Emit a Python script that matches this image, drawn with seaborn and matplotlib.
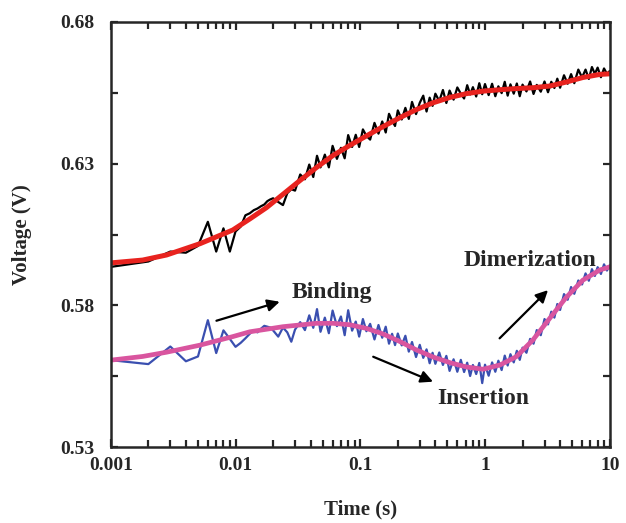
import matplotlib
matplotlib.use('Agg')
import matplotlib.pyplot as plt
from matplotlib.ticker import FixedLocator, LogLocator, NullFormatter, FuncFormatter
import seaborn as sns
import pandas as pd

# ---- data ----
# sample times (s) for the two measured traces
time_s = [0.001, 0.002, 0.003, 0.004, 0.005, 0.006, 0.007, 0.008, 0.009, 0.010,
          0.011, 0.012, 0.013, 0.014, 0.015, 0.016, 0.017, 0.018, 0.019, 0.020,
          0.022, 0.024, 0.026, 0.028, 0.030, 0.033, 0.036, 0.039, 0.042, 0.045, 0.048,
          0.052, 0.056, 0.060, 0.065, 0.070, 0.075, 0.080, 0.086, 0.092, 0.098,
          0.105, 0.112, 0.12, 0.13, 0.14, 0.15, 0.16, 0.17, 0.18, 0.19, 0.20,
          0.215, 0.23, 0.245, 0.26, 0.28, 0.30, 0.32, 0.34, 0.36, 0.38, 0.40,
          0.43, 0.46, 0.49, 0.52, 0.56, 0.60, 0.64, 0.68, 0.72, 0.76, 0.80,
          0.85, 0.90, 0.95, 1.0, 1.07, 1.14, 1.21, 1.28, 1.36, 1.44, 1.52, 1.6,
          1.7, 1.8, 1.9, 2.0, 2.15, 2.3, 2.45, 2.6, 2.8, 3.0, 3.2, 3.4,
          3.6, 3.8, 4.0, 4.3, 4.6, 4.9, 5.2, 5.6, 6.0, 6.4, 6.8, 7.2,
          7.6, 8.0, 8.5, 9.0, 9.5, 10.0]

# upper trace (black, measured)
upper_raw = [0.5936, 0.5955, 0.5990, 0.5986, 0.6010, 0.6095, 0.5990, 0.6072, 0.5990, 0.6061,
             0.6078, 0.6118, 0.6125, 0.6136, 0.6142, 0.6150, 0.6156, 0.6168, 0.6174, 0.6178,
             0.6165, 0.6154, 0.6196, 0.6210, 0.6205, 0.6262, 0.6245, 0.6297, 0.6253, 0.6328, 0.6287,
             0.6332, 0.6287, 0.6363, 0.6317, 0.6356, 0.6319, 0.6401, 0.6359, 0.6402, 0.6359,
             0.6421, 0.6398, 0.6385, 0.6444, 0.6406, 0.6449, 0.6410, 0.6476, 0.6452, 0.6433, 0.6488,
             0.6456, 0.6497, 0.6458, 0.6518, 0.6475, 0.6515, 0.6540, 0.6484, 0.6533, 0.6504, 0.6547,
             0.6521, 0.6560, 0.6514, 0.6558, 0.6526, 0.6569, 0.6547, 0.6530, 0.6577, 0.6544, 0.6570,
             0.6537, 0.6584, 0.6545, 0.6581, 0.6542, 0.6582, 0.6538, 0.6573, 0.6549, 0.6589, 0.6540, 0.6580,
             0.6547, 0.6583, 0.6538, 0.6579, 0.6555, 0.6590, 0.6546, 0.6578, 0.6554, 0.6590, 0.6552, 0.6589,
             0.6567, 0.6600, 0.6568, 0.6612, 0.6582, 0.6616, 0.6584, 0.6632, 0.6604, 0.6632, 0.6599, 0.6641,
             0.6617, 0.6639, 0.6605, 0.6636, 0.6617, 0.6627]

# lower trace (blue, measured)
lower_raw = [0.5607, 0.5593, 0.5655, 0.5603, 0.5620, 0.5748, 0.5632, 0.5712, 0.5682, 0.5654,
             0.5668, 0.5684, 0.5700, 0.5712, 0.5705, 0.5718, 0.5728, 0.5725, 0.5722, 0.5712,
             0.5690, 0.5722, 0.5705, 0.5672, 0.5715, 0.5741, 0.5713, 0.5765, 0.5721, 0.5787, 0.5707,
             0.5757, 0.5702, 0.5782, 0.5727, 0.5761, 0.5695, 0.5783, 0.5711, 0.5743, 0.5690,
             0.5752, 0.5709, 0.5735, 0.5680, 0.5731, 0.5686, 0.5725, 0.5665, 0.5700, 0.5660, 0.5701,
             0.5659, 0.5693, 0.5637, 0.5671, 0.5618, 0.5661, 0.5615, 0.5645, 0.5596, 0.5633, 0.5594,
             0.5634, 0.5590, 0.5622, 0.5569, 0.5610, 0.5566, 0.5608, 0.5565, 0.5598, 0.5551, 0.5590,
             0.5558, 0.5597, 0.5526, 0.5591, 0.5552, 0.5599, 0.5566, 0.5605, 0.5572, 0.5623, 0.5588, 0.5628,
             0.5599, 0.5640, 0.5608, 0.5651, 0.5633, 0.5682, 0.5665, 0.5713, 0.5695, 0.5752, 0.5733, 0.5778,
             0.5757, 0.5805, 0.5784, 0.5840, 0.5820, 0.5865, 0.5841, 0.5888, 0.5874, 0.5913, 0.5887, 0.5928,
             0.5904, 0.5935, 0.5911, 0.5945, 0.5923, 0.5941]

# fitted curves
fit_time = [0.001, 0.0018, 0.0028, 0.0052, 0.0095, 0.013, 0.0177, 0.024, 0.0327, 0.0447,
            0.06, 0.082, 0.112, 0.151, 0.207, 0.282, 0.384, 0.525, 0.708, 0.966,
            1.32, 1.78, 2.42, 3.31, 4.47, 6.08, 8.32, 10.0]
upper_fit = [0.5950, 0.5960, 0.5978, 0.6018, 0.6066, 0.6105, 0.6145, 0.6192, 0.6240, 0.6287,
             0.6328, 0.6364, 0.6398, 0.6430, 0.6462, 0.6491, 0.6515, 0.6534, 0.6547, 0.6556,
             0.6561, 0.6565, 0.6568, 0.6574, 0.6588, 0.6604, 0.6615, 0.6617]
lower_fit = [0.5607, 0.5620, 0.5635, 0.5660, 0.5690, 0.5707, 0.5716, 0.5725, 0.5731, 0.5737,
             0.5737, 0.5732, 0.5719, 0.5700, 0.5673, 0.5643, 0.5618, 0.5598, 0.5583, 0.5575,
             0.5590, 0.5619, 0.5678, 0.5755, 0.5828, 0.5889, 0.5925, 0.5936]

y_major = [0.53, 0.58, 0.63, 0.68]
y_minor = [0.555, 0.605, 0.655]
x_ticks = [0.001, 0.01, 0.1, 1, 10]
x_ticklabels = ['0.001', '0.01', '0.1', '1', '10']

raw = pd.DataFrame({'t': time_s, 'upper': upper_raw, 'lower': lower_raw})
fit = pd.DataFrame({'t': fit_time, 'upper': upper_fit, 'lower': lower_fit})

sns.set_style('ticks')
plt.rcParams['font.family'] = ['Liberation Serif', 'DejaVu Serif']
plt.rcParams['font.weight'] = 'bold'

fig, ax = plt.subplots(figsize=(6.26, 5.23), dpi=100)
fig.subplots_adjust(left=0.177, right=0.974, top=0.958, bottom=0.145)

sns.lineplot(data=raw, x='t', y='upper', ax=ax, color='black', lw=1.6, estimator=None, sort=False)
sns.lineplot(data=fit, x='t', y='upper', ax=ax, color='#e8231f', lw=3.6, estimator=None, sort=False)
sns.lineplot(data=raw, x='t', y='lower', ax=ax, color='#3a4fb0', lw=1.6, estimator=None, sort=False)
sns.lineplot(data=fit, x='t', y='lower', ax=ax, color='#d9559f', lw=3.4, estimator=None, sort=False)

ax.set_xscale('log')
ax.set_xlim(0.001, 10)
ax.set_ylim(0.53, 0.68)

ax.xaxis.set_major_locator(FixedLocator(x_ticks))
ax.xaxis.set_major_formatter(FuncFormatter(lambda v, p: x_ticklabels[x_ticks.index(v)] if v in x_ticks else ''))
ax.xaxis.set_minor_locator(LogLocator(base=10, subs=range(2, 10), numticks=20))
ax.xaxis.set_minor_formatter(NullFormatter())
ax.yaxis.set_major_locator(FixedLocator(y_major))
ax.yaxis.set_minor_locator(FixedLocator(y_minor))
ax.set_yticklabels(['%.2f' % v for v in y_major])

ax.tick_params(axis='both', which='both', direction='in', top=True, right=True,
               width=1.6, labelsize=14)
ax.tick_params(axis='x', which='major', length=6, pad=7)
ax.tick_params(axis='x', which='minor', length=5)
ax.tick_params(axis='y', which='both', length=5, pad=12)
for s in ax.spines.values():
    s.set_linewidth(1.8)

ax.set_xlabel('Time (s)', fontsize=15, fontweight='bold')
ax.set_ylabel('Voltage (V)', fontsize=15, fontweight='bold')
ax.xaxis.set_label_coords(0.5, -0.122)
ax.yaxis.set_label_coords(-0.158, 0.5)

arrow = dict(arrowstyle='-|>', color='black', lw=1.6, mutation_scale=18, shrinkA=0, shrinkB=0)
ax.annotate('', xy=(0.0226, 0.5813), xytext=(0.00703, 0.5746), arrowprops=arrow)
ax.annotate('', xy=(0.383, 0.5531), xytext=(0.127, 0.5619), arrowprops=arrow)
ax.annotate('', xy=(3.2, 0.5854), xytext=(1.31, 0.5684), arrowprops=arrow)
ax.text(0.059, 0.5844, 'Binding', ha='center', va='center', fontsize=17, fontweight='bold')
ax.text(0.977, 0.5473, 'Insertion', ha='center', va='center', fontsize=17, fontweight='bold')
ax.text(2.28, 0.5957, 'Dimerization', ha='center', va='center', fontsize=17, fontweight='bold')

plt.savefig('out.png', dpi=100)
